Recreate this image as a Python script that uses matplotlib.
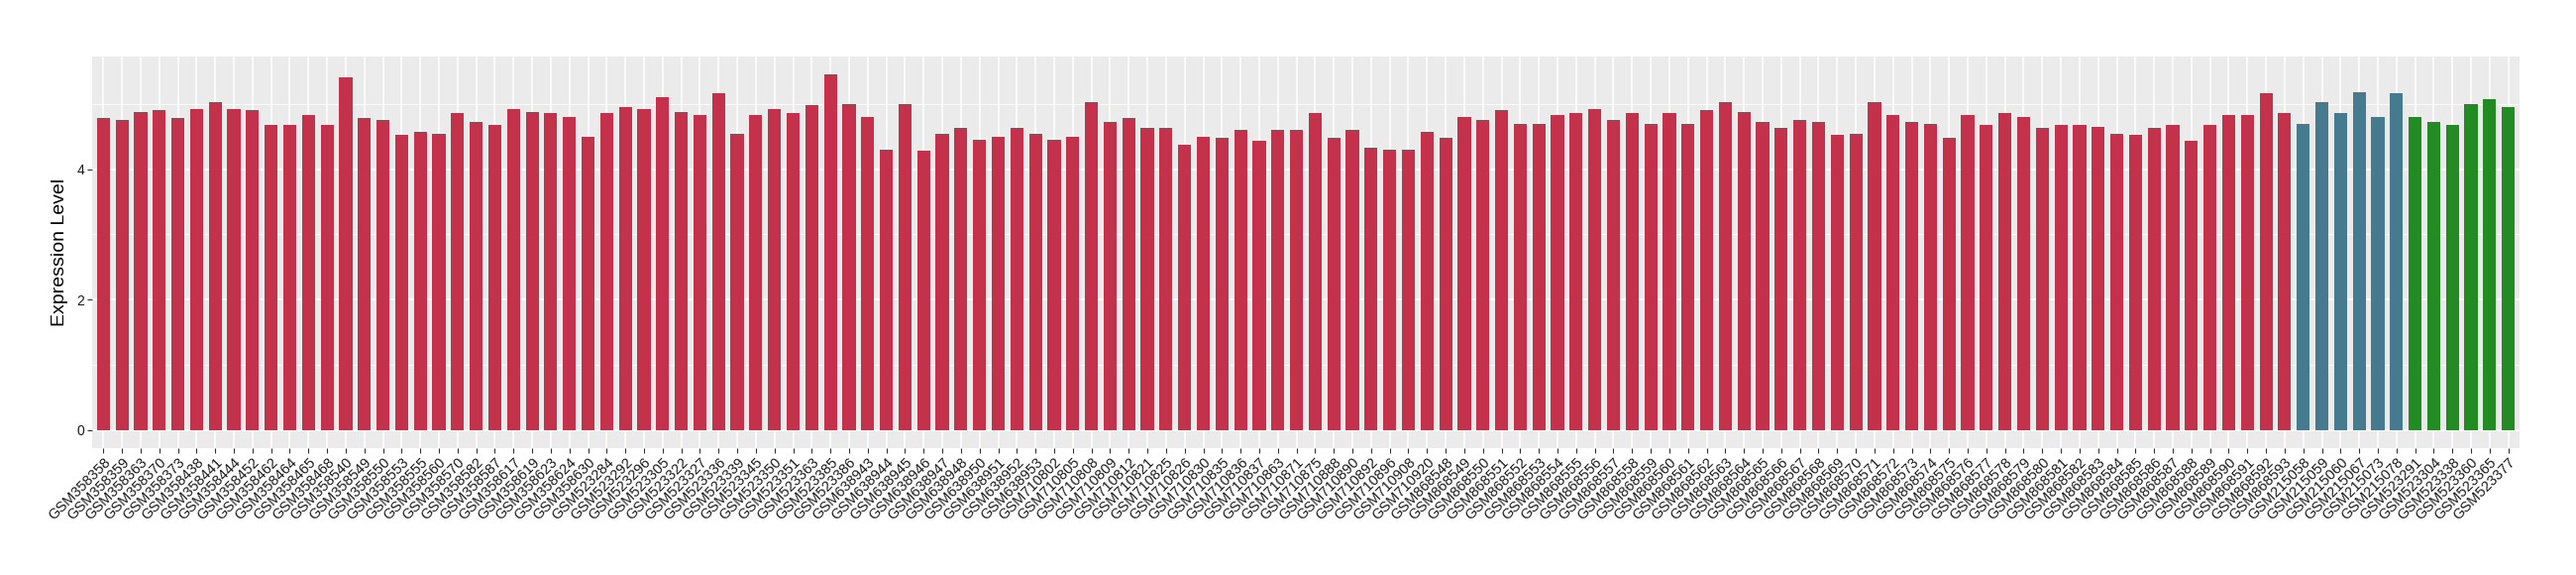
import matplotlib
matplotlib.use("Agg")
import matplotlib.pyplot as plt
from matplotlib.ticker import MultipleLocator

# ---- data ----
group1_samples = [
    "GSM358358", "GSM358359", "GSM358363", "GSM358370", "GSM358373", "GSM358438",
    "GSM358441", "GSM358444", "GSM358452", "GSM358462", "GSM358464", "GSM358465",
    "GSM358468", "GSM358540", "GSM358549", "GSM358550", "GSM358553", "GSM358555",
    "GSM358560", "GSM358570", "GSM358582", "GSM358587", "GSM358617", "GSM358619",
    "GSM358623", "GSM358624", "GSM358630", "GSM523284", "GSM523292", "GSM523296",
    "GSM523305", "GSM523322", "GSM523327", "GSM523336", "GSM523339", "GSM523345",
    "GSM523350", "GSM523351", "GSM523363", "GSM523385", "GSM523386", "GSM638943",
    "GSM638944", "GSM638945", "GSM638946", "GSM638947", "GSM638948", "GSM638950",
    "GSM638951", "GSM638952", "GSM638953", "GSM710802", "GSM710805", "GSM710808",
    "GSM710809", "GSM710812", "GSM710821", "GSM710825", "GSM710826", "GSM710830",
    "GSM710835", "GSM710836", "GSM710837", "GSM710863", "GSM710871", "GSM710875",
    "GSM710888", "GSM710890", "GSM710892", "GSM710896", "GSM710908", "GSM710920",
    "GSM868548", "GSM868549", "GSM868550", "GSM868551", "GSM868552", "GSM868553",
    "GSM868554", "GSM868555", "GSM868556", "GSM868557", "GSM868558", "GSM868559",
    "GSM868560", "GSM868561", "GSM868562", "GSM868563", "GSM868564", "GSM868565",
    "GSM868566", "GSM868567", "GSM868568", "GSM868569", "GSM868570", "GSM868571",
    "GSM868572", "GSM868573", "GSM868574", "GSM868575", "GSM868576", "GSM868577",
    "GSM868578", "GSM868579", "GSM868580", "GSM868581", "GSM868582", "GSM868583",
    "GSM868584", "GSM868585", "GSM868586", "GSM868587", "GSM868588", "GSM868589",
    "GSM868590", "GSM868591", "GSM868592", "GSM868593",
]
group1_values = [
    4.78, 4.75, 4.88, 4.90, 4.78, 4.93, 5.03, 4.93, 4.90, 4.68, 4.68, 4.83,
    4.68, 5.41, 4.78, 4.75, 4.53, 4.58, 4.55, 4.86, 4.73, 4.68, 4.93, 4.88,
    4.86, 4.80, 4.50, 4.86, 4.96, 4.93, 5.10, 4.88, 4.83, 5.16, 4.55, 4.83,
    4.93, 4.86, 4.98, 5.46, 5.00, 4.80, 4.30, 5.00, 4.28, 4.55, 4.63, 4.45,
    4.50, 4.63, 4.55, 4.45, 4.50, 5.03, 4.73, 4.78, 4.63, 4.63, 4.38, 4.50,
    4.48, 4.60, 4.43, 4.60, 4.60, 4.86, 4.48, 4.60, 4.33, 4.30, 4.30, 4.58,
    4.48, 4.80, 4.75, 4.90, 4.70, 4.70, 4.83, 4.86, 4.93, 4.75, 4.86, 4.70,
    4.86, 4.70, 4.90, 5.03, 4.88, 4.73, 4.63, 4.75, 4.73, 4.53, 4.55, 5.03,
    4.83, 4.73, 4.70, 4.48, 4.83, 4.68, 4.86, 4.80, 4.63, 4.68, 4.68, 4.65,
    4.55, 4.53, 4.63, 4.68, 4.43, 4.68, 4.83, 4.83, 5.16, 4.86,
]
group2_samples = ["GSM215058", "GSM215059", "GSM215060", "GSM215067", "GSM215073", "GSM215078"]
group2_values = [4.70, 5.03, 4.86, 5.18, 4.80, 5.16]
group3_samples = ["GSM523291", "GSM523304", "GSM523338", "GSM523360", "GSM523365", "GSM523377"]
group3_values = [4.80, 4.73, 4.68, 5.00, 5.08, 4.96]

group_colors = ["#C3324A", "#467A8E", "#228B22"]
y_label = "Expression Level"
y_ticks = [0, 2, 4]

# ---- plot ----
plt.rcParams["font.family"] = ["Liberation Sans", "DejaVu Sans"]
fig = plt.figure(figsize=(26, 5.8), dpi=100)
ax = fig.add_axes([93 / 2600, 1 - 451.7 / 580, (2543 - 93) / 2600, (451.7 - 56.7) / 580])

samples = group1_samples + group2_samples + group3_samples
values = group1_values + group2_values + group3_values
colors = ([group_colors[0]] * len(group1_samples) + [group_colors[1]] * len(group2_samples)
          + [group_colors[2]] * len(group3_samples))
x = list(range(1, len(samples) + 1))

ax.set_facecolor("#EBEBEB")
ax.set_axisbelow(True)
ax.bar(x, values, width=0.7, color=colors, linewidth=0, zorder=3)

ax.set_xlim(0.4, len(samples) + 0.6)
ymax = max(values)
ax.set_ylim(-0.05 * ymax, 1.05 * ymax)
ax.set_yticks(y_ticks)
ax.yaxis.set_minor_locator(MultipleLocator(1))
ax.set_xticks(x)
ax.set_xticklabels(samples, rotation=45, ha="right", va="top", rotation_mode="anchor",
                   fontsize=10.5, color="#1A1A1A")
for lab in ax.get_yticklabels():
    lab.set_fontsize(10)
    lab.set_color("#1A1A1A")

ax.grid(which="major", color="white", linewidth=1.1)
ax.grid(which="minor", axis="y", color="white", linewidth=0.55)
ax.tick_params(axis="both", which="major", length=3.5, width=0.8, color="#333333", pad=2)
ax.tick_params(axis="y", which="minor", length=0)
for s in ax.spines.values():
    s.set_visible(False)

ax.set_ylabel(y_label, fontsize=14, color="black", labelpad=6)

fig.savefig("out.png", dpi=100)
